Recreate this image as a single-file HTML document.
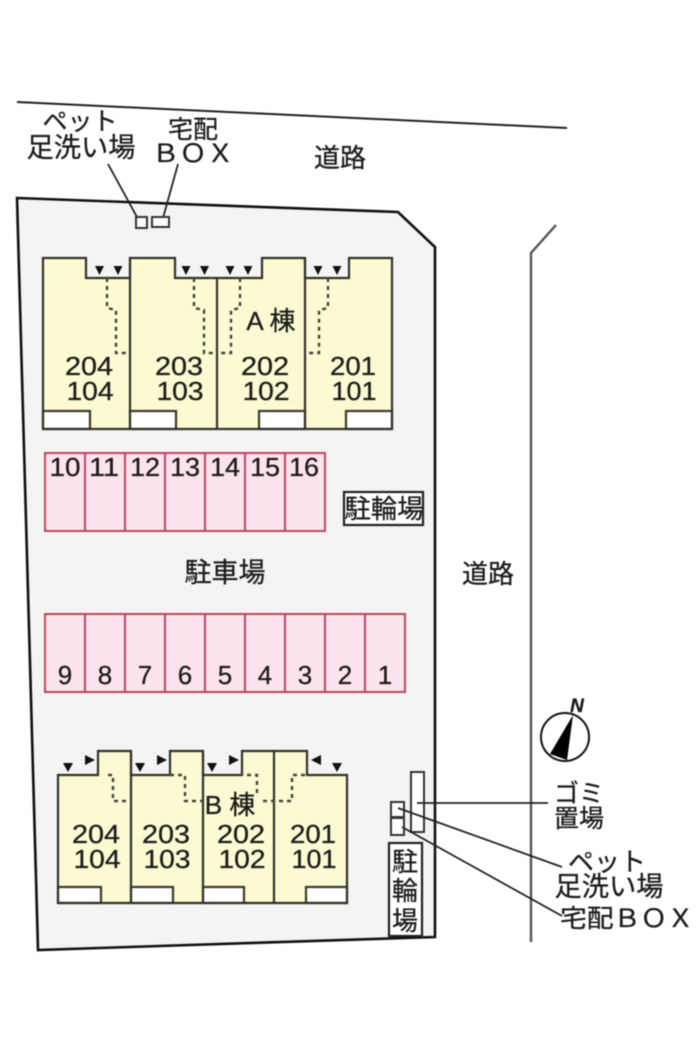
<!DOCTYPE html>
<html lang="ja"><head><meta charset="utf-8"><title>配置図</title>
<style>
html,body{margin:0;padding:0;background:#fff;width:700px;height:1049px;overflow:hidden}
svg{display:block;filter:blur(.4px)}
text{font-family:"Liberation Sans","Noto Sans CJK JP",sans-serif;fill:#1c1c1c;text-anchor:middle;stroke:#1c1c1c;stroke-width:.3}
.j{font-size:25px}
.n{font-size:26px}
.w{stroke:#33332a;stroke-width:2.2;fill:none}
.d{stroke:#44443a;stroke-width:2.4;stroke-dasharray:4 4;fill:none}
.l{stroke:#222;stroke-width:1.8;fill:none}
.p{fill:#fde3ee;stroke:#b9485c;stroke-width:2}
.b{fill:#fff;stroke:#333;stroke-width:2}
</style></head><body>
<svg width="700" height="1049" viewBox="0 0 700 1049" xmlns="http://www.w3.org/2000/svg">
<rect width="700" height="1049" fill="#fff"/>
<!-- roads -->
<path d="M17 102L567 128" stroke="#222" stroke-width="2" fill="none"/>
<path d="M531 942V253L556 225" stroke="#555" stroke-width="2.4" fill="none"/>
<!-- site -->
<path d="M17 198L398 212L435 247V937L38 950Z" fill="#f4f4f5" stroke="#111" stroke-width="2.6"/>

<!-- A building -->
<path d="M43 258H86V278H130V258H175V278H262V258H305V278H349V258H392V429H43Z" fill="#fbfad2"/>
<g fill="#fff" stroke="#3a3a2a" stroke-width="2.2">
<rect x="43" y="411" width="47" height="18"/><rect x="130" y="411" width="46" height="18"/>
<rect x="259" y="411" width="46" height="18"/><rect x="346" y="411" width="46" height="18"/>
</g>
<path class="w" d="M43 258H86V278H130V258H175V278H262V258H305V278H349V258H392V429H43Z"/>
<path class="w" d="M130 258V429M217 278V429M305 258V429"/>
<path class="d" d="M107 278V308L116 310V353H130M194 278V308L204 310V353H217M240 278V308L231 310V353H217M328 278V308L319 310V353H305"/>
<g fill="#111">
<path d="M95 266h9l-4.500 9zM113.500 266h9l-4.500 9zM181.500 266h9l-4.500 9zM200 266h9l-4.500 9zM225.500 266h9l-4.500 9zM243.500 266h9l-4.500 9zM313.500 266h9l-4.500 9zM332.500 266h9l-4.500 9z"/>
</g>
<text class="n" x="89" y="375" textLength="48" lengthAdjust="spacingAndGlyphs">204</text>
<text class="n" x="90" y="400" textLength="47" lengthAdjust="spacingAndGlyphs">104</text>
<text class="n" x="179" y="375" textLength="48" lengthAdjust="spacingAndGlyphs">203</text>
<text class="n" x="180" y="400" textLength="47" lengthAdjust="spacingAndGlyphs">103</text>
<text class="n" x="265" y="375" textLength="48" lengthAdjust="spacingAndGlyphs">202</text>
<text class="n" x="266" y="400" textLength="47" lengthAdjust="spacingAndGlyphs">102</text>
<text class="n" x="353" y="375" textLength="46" lengthAdjust="spacingAndGlyphs">201</text>
<text class="n" x="354" y="400" textLength="45" lengthAdjust="spacingAndGlyphs">101</text>
<text x="271" y="330" font-size="26">A 棟</text>

<!-- parking top -->
<rect class="p" x="45" y="453" width="280" height="78"/>
<path class="p" d="M85 453V531M125 453V531M165 453V531M205 453V531M245 453V531M285 453V531"/>
<text x="65" y="476" font-size="26" textLength="31" lengthAdjust="spacingAndGlyphs">10</text>
<text x="104" y="476" font-size="26" textLength="30" lengthAdjust="spacingAndGlyphs">11</text>
<text x="145" y="476" font-size="26" textLength="30" lengthAdjust="spacingAndGlyphs">12</text>
<text x="185" y="476" font-size="26" textLength="30" lengthAdjust="spacingAndGlyphs">13</text>
<text x="225" y="476" font-size="26" textLength="30" lengthAdjust="spacingAndGlyphs">14</text>
<text x="265" y="476" font-size="26" textLength="30" lengthAdjust="spacingAndGlyphs">15</text>
<text x="304" y="476" font-size="26" textLength="30" lengthAdjust="spacingAndGlyphs">16</text>
<!-- parking bottom -->
<rect class="p" x="45" y="614" width="360" height="78"/>
<path class="p" d="M85 614V692M125 614V692M165 614V692M205 614V692M245 614V692M285 614V692M325 614V692M365 614V692"/>
<text x="65" y="684" font-size="26">9</text><text x="105" y="684" font-size="26">8</text>
<text x="145" y="684" font-size="26">7</text><text x="185" y="684" font-size="26">6</text>
<text x="225" y="684" font-size="26">5</text><text x="265" y="684" font-size="26">4</text>
<text x="305" y="684" font-size="26">3</text><text x="345" y="684" font-size="26">2</text>
<text x="385" y="684" font-size="26">1</text>
<rect x="344" y="492" width="79" height="33" fill="#fff" stroke="#222" stroke-width="2.2"/>
<text x="384" y="518" font-size="26" textLength="79" lengthAdjust="spacingAndGlyphs">駐輪場</text>
<text x="225" y="582" font-size="27">駐車場</text>

<!-- B building -->
<path d="M58 775H98V751H131V775H170V751H203V775H242V751H307V775H347V903H58Z" fill="#fbfad2"/>
<g fill="#fff" stroke="#3a3a2a" stroke-width="2.2">
<rect x="58" y="887" width="43" height="16"/><rect x="131" y="887" width="42" height="16"/>
<rect x="203" y="887" width="41" height="16"/><rect x="306" y="887" width="41" height="16"/>
</g>
<path class="w" d="M58 775H98V751H131V775H170V751H203V775H242V751H307V775H347V903H58Z"/>
<path class="w" d="M131 751V903M203 751V903M274 751V903"/>
<path class="d" d="M108 775H113V801H131M170 775H185V801H203M247 775H257V795M263 801H292V775H306"/>
<g fill="#111">
<path d="M63 763h10l-5 9zM135 763h10l-5 9zM207 763h10l-5 9zM332 763h10l-5 9z"/>
<path d="M85 755l10 5-10 5zM157 755l10 5-10 5zM229 755l10 5-10 5zM321 755l-10 5 10 5z"/>
</g>
<text class="n" x="96" y="843" textLength="48" lengthAdjust="spacingAndGlyphs">204</text>
<text class="n" x="97" y="868" textLength="47" lengthAdjust="spacingAndGlyphs">104</text>
<text class="n" x="166" y="843" textLength="48" lengthAdjust="spacingAndGlyphs">203</text>
<text class="n" x="167" y="868" textLength="47" lengthAdjust="spacingAndGlyphs">103</text>
<text class="n" x="241" y="843" textLength="48" lengthAdjust="spacingAndGlyphs">202</text>
<text class="n" x="242" y="868" textLength="47" lengthAdjust="spacingAndGlyphs">102</text>
<text class="n" x="313" y="843" textLength="46" lengthAdjust="spacingAndGlyphs">201</text>
<text class="n" x="314" y="868" textLength="45" lengthAdjust="spacingAndGlyphs">101</text>
<text x="230" y="814" font-size="26">B 棟</text>

<!-- top labels -->
<text class="j" x="80" y="130" font-size="26">ペット</text>
<text x="81" y="157" font-size="27" textLength="109" lengthAdjust="spacingAndGlyphs">足洗い場</text>
<text class="j" x="193" y="138">宅配</text>
<text x="193" y="162" font-size="25" textLength="82" lengthAdjust="spacingAndGlyphs">ＢＯＸ</text>
<text x="340" y="167" font-size="26">道路</text>
<text x="488" y="583" font-size="26">道路</text>
<path class="l" d="M108 164L137 217M178 164L163 218"/>
<rect class="b" x="136" y="217" width="11" height="11"/>
<rect class="b" x="152" y="217" width="17" height="10"/>

<!-- compass -->
<circle cx="565" cy="737" r="24" fill="#fff" stroke="#111" stroke-width="2"/>
<path d="M573 715L550 754L567 760Z" fill="#000"/>
<text x="577" y="712" font-size="19" font-weight="bold" font-style="italic">N</text>

<!-- right facilities -->
<rect x="411" y="772" width="13" height="60" fill="#fff" stroke="#333" stroke-width="2"/>
<rect class="b" x="391" y="802" width="13" height="15"/>
<rect class="b" x="391" y="818" width="13" height="17"/>
<rect x="389" y="843" width="33" height="93" fill="#fff" stroke="#222" stroke-width="2.2"/>
<text x="405" y="871" font-size="26">駐</text>
<text x="405" y="900" font-size="26">輪</text>
<text x="405" y="930" font-size="26">場</text>
<path class="l" stroke="#333" d="M417 803H548M398 808L562 867M402 827L562 916"/>
<text x="579" y="802" font-size="25">ゴミ</text>
<text x="579" y="827" font-size="25">置場</text>
<text x="607" y="871" font-size="26">ペット</text>
<text x="609" y="896" font-size="27" textLength="109" lengthAdjust="spacingAndGlyphs">足洗い場</text>
<text x="627" y="927" font-size="25" textLength="134" lengthAdjust="spacingAndGlyphs">宅配ＢＯＸ</text>
</svg>
</body></html>
